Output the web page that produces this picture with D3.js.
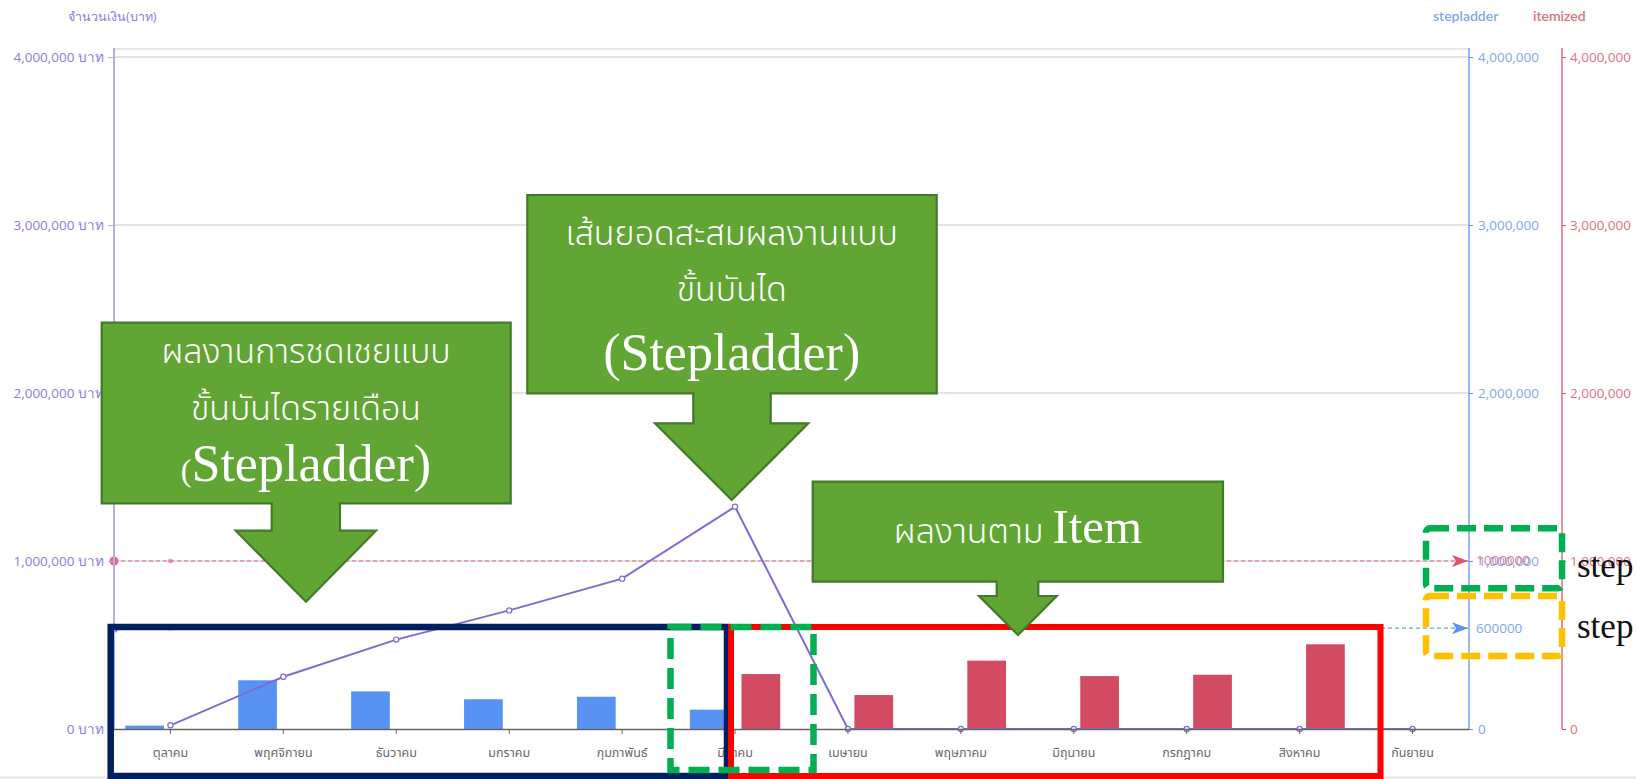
<!DOCTYPE html>
<html>
<head>
<meta charset="utf-8">
<script src="https://cdn.jsdelivr.net/npm/d3@7"></script>
<style>
  html, body { margin: 0; padding: 0; background: #ffffff; }
  svg { display: block; }
</style>
</head>
<body>
<svg id="chart" width="1636" height="779" font-family="'Open Sans', 'Noto Sans', sans-serif"></svg>
<script>
// ---------------- data ----------------
const months = ["ตุลาคม","พฤศจิกายน","ธันวาคม","มกราคม","กุมภาพันธ์","มีนาคม","เมษายน","พฤษภาคม","มิถุนายน","กรกฎาคม","สิงหาคม","กันยายน"];
const seriesNames = ["stepladder", "itemized"];
const stepladderValues = [20000, 290000, 224000, 177000, 192000, 115000, 0, 0, 0, 0, 0, 0];
const itemizedValues   = [0, 0, 0, 0, 0, 327000, 202000, 407000, 315000, 323000, 504000, 0];
const cumulativeStepladder = [22000, 311000, 532000, 706000, 895000, 1323000, 0, 0, 0, 0, 0, 0];
const yTickValues = [0, 1000000, 2000000, 3000000, 4000000];
const itemizedTarget = 1000000;
const stepladderTarget = 600000;
const titleText = "จำนวนเงิน(บาท)";
const callout1Lines = ["ผลงานการชดเชยแบบ", "ขั้นบันไดรายเดือน"];
const callout2Lines = ["เส้นยอดสะสมผลงานแบบ", "ขั้นบันได"];
const callout3Thai = "ผลงานตาม";

// ---------------- layout ----------------
const svg = d3.select("#chart");
const pLeft = 114, pRight = 1469, pTop = 57, pBottom = 729, plotTop = 49;
const blueAxisX = 1469, redAxisX = 1562;
const sans = "'Open Sans', 'Noto Sans', sans-serif";
const thaiFont = "'Noto Sans Thai', 'Noto Sans Thai Looped', Loma, Garuda, 'Noto Sans', sans-serif";
const serif = "'Liberation Serif', 'DejaVu Serif', serif";

const COL = {
  purpleAxis: "#b7aee9", purpleText: "#8a80d6", line: "#7d6cd2",
  blue: "#5893f3", blueText: "#7ea6f2", red: "#d24b63", redText: "#df6f82",
  grid: "#e3e3e3", base: "#666666", month: "#6a6a6a",
  callFill: "#61a534", callStroke: "#44792a"
};

const x0 = d3.scaleBand().domain(months).range([pLeft, pRight]).paddingInner(0.2).paddingOuter(0.1);
const x1 = d3.scaleBand().domain(seriesNames).range([0, x0.bandwidth()]).paddingInner(0.25);
const y = d3.scaleLinear().domain([0, 4000000]).range([pBottom, pTop]);
const cx = m => x0(m) + x0.bandwidth() / 2;

// faint bottom edge line (screenshot edge)
svg.append("line").attr("x1", 0).attr("x2", 1636).attr("y1", 777.5).attr("y2", 777.5)
  .attr("stroke", "#e6e6e6").attr("stroke-width", 2);

// title & legend
svg.append("text").attr("x", 68).attr("y", 21).attr("font-size", 12.5).attr("font-family", sans)
  .attr("fill", COL.purpleText).text(titleText);
svg.append("text").attr("x", 1433).attr("y", 21).attr("font-size", 14).attr("font-weight", 600)
  .attr("font-family", "Lato, sans-serif").attr("fill", COL.blueText).text(seriesNames[0]);
svg.append("text").attr("x", 1533).attr("y", 21).attr("font-size", 14).attr("font-weight", 600)
  .attr("font-family", "Lato, sans-serif").attr("fill", COL.redText).text(seriesNames[1]);

// plot top border & gridlines
svg.append("line").attr("x1", pLeft).attr("x2", pRight).attr("y1", plotTop).attr("y2", plotTop)
  .attr("stroke", "#cfcfcf").attr("stroke-width", 1);
svg.append("g").selectAll("line").data(yTickValues.filter(d => d > 0)).join("line")
  .attr("x1", pLeft).attr("x2", pRight).attr("y1", d => y(d)).attr("y2", d => y(d))
  .attr("stroke", COL.grid).attr("stroke-width", 2);

// bars
const rows = months.map((m, i) => ({ m, stepladder: stepladderValues[i], itemized: itemizedValues[i] }));
svg.append("g").selectAll("g").data(rows).join("g")
  .attr("transform", d => `translate(${x0(d.m)},0)`)
  .selectAll("rect").data(d => seriesNames.map(k => ({ k, v: d[k] })).filter(e => e.v > 0)).join("rect")
  .attr("x", e => x1(e.k)).attr("width", x1.bandwidth())
  .attr("y", e => y(e.v)).attr("height", e => y(0) - y(e.v))
  .attr("fill", e => e.k === "stepladder" ? COL.blue : COL.red);

// arrow markers
const defs = svg.append("defs");
function marker(id, color) {
  defs.append("marker").attr("id", id).attr("viewBox", "0 0 16 12").attr("refX", 16).attr("refY", 6)
    .attr("markerWidth", 16).attr("markerHeight", 12).attr("markerUnits", "userSpaceOnUse").attr("orient", "auto")
    .append("path").attr("d", "M0,0 L16,6 L0,12 L4,6 Z").attr("fill", color);
}
marker("arrRed", "#d9566b");
marker("arrBlue", "#5b95f0");

// target dashed lines
function targetLine(v, color, mk) {
  svg.append("line").attr("x1", pLeft).attr("x2", blueAxisX - 1).attr("y1", y(v)).attr("y2", y(v))
    .attr("stroke", color).attr("stroke-width", 1.2).attr("stroke-dasharray", "4 3")
    .attr("marker-end", `url(#${mk})`);
  svg.append("circle").attr("cx", pLeft).attr("cy", y(v)).attr("r", 4.5).attr("fill", color);
  svg.append("circle").attr("cx", cx(months[0])).attr("cy", y(v)).attr("r", 2.5).attr("fill", color).attr("opacity", 0.6);
}
targetLine(itemizedTarget, "#e06a7f", "arrRed");
targetLine(stepladderTarget, "#6c9ff0", "arrBlue");

// cumulative line
const lineGen = d3.line().x((d, i) => cx(months[i])).y(d => y(d));
svg.append("path").datum(cumulativeStepladder).attr("d", lineGen)
  .attr("fill", "none").attr("stroke", COL.line).attr("stroke-width", 2);
svg.append("g").selectAll("circle").data(cumulativeStepladder).join("circle")
  .attr("cx", (d, i) => cx(months[i])).attr("cy", d => y(d)).attr("r", 2.6)
  .attr("fill", "#fff").attr("stroke", COL.line).attr("stroke-width", 1.2);

// left axis
svg.append("line").attr("x1", pLeft).attr("x2", pLeft).attr("y1", plotTop - 1).attr("y2", pBottom)
  .attr("stroke", COL.purpleAxis).attr("stroke-width", 2);
const gL = svg.append("g").attr("transform", `translate(${pLeft},0)`)
  .call(d3.axisLeft(y).tickValues(yTickValues).tickSize(6).tickPadding(4)
    .tickFormat(d => d3.format(",")(d) + " บาท"));
gL.attr("font-family", sans).attr("font-size", 13.5);
gL.select(".domain").remove();
gL.selectAll("line").attr("stroke", COL.purpleAxis);
gL.selectAll("text").attr("fill", COL.purpleText);

// blue right axis
svg.append("line").attr("x1", blueAxisX).attr("x2", blueAxisX).attr("y1", plotTop - 1).attr("y2", pBottom)
  .attr("stroke", "#5b95f0").attr("stroke-width", 1.3);
const gB = svg.append("g").attr("transform", `translate(${blueAxisX},0)`)
  .call(d3.axisRight(y).tickValues(yTickValues).tickSize(4).tickPadding(5).tickFormat(d3.format(",")));
gB.attr("font-family", sans).attr("font-size", 13.5);
gB.select(".domain").remove();
gB.selectAll("line").attr("stroke", "#5b95f0");
gB.selectAll("text").attr("fill", COL.blueText);

// red right axis
svg.append("line").attr("x1", redAxisX).attr("x2", redAxisX).attr("y1", plotTop - 1).attr("y2", pBottom)
  .attr("stroke", "#d9566b").attr("stroke-width", 1.3);
const gR = svg.append("g").attr("transform", `translate(${redAxisX},0)`)
  .call(d3.axisRight(y).tickValues(yTickValues).tickSize(4).tickPadding(4).tickFormat(d3.format(",")));
gR.attr("font-family", sans).attr("font-size", 13.5);
gR.select(".domain").remove();
gR.selectAll("line").attr("stroke", "#d9566b");
gR.selectAll("text").attr("fill", COL.redText);

// target value labels at blue axis
svg.append("text").attr("x", blueAxisX + 7).attr("y", y(itemizedTarget)).attr("dy", "0.32em")
  .attr("font-family", sans).attr("font-size", 13.5).attr("fill", COL.redText).attr("opacity", 0.9)
  .text(String(itemizedTarget));
svg.append("text").attr("x", blueAxisX + 7).attr("y", y(stepladderTarget)).attr("dy", "0.32em")
  .attr("font-family", sans).attr("font-size", 13.5).attr("fill", COL.blueText).text(String(stepladderTarget));

// x axis
const gX = svg.append("g").attr("transform", `translate(0,${pBottom})`)
  .call(d3.axisBottom(x0).tickSize(5).tickPadding(14));
gX.attr("font-family", thaiFont).attr("font-size", 12.5);
gX.select(".domain").attr("d", `M${pLeft},0.5H${pRight}`).attr("stroke", COL.base).attr("stroke-width", 1.5);
gX.selectAll("line").attr("stroke", COL.base);
gX.selectAll("text").attr("fill", COL.month);

// ---------------- annotation overlays ----------------
const ann = svg.append("g");
ann.append("rect").attr("x", 110.7).attr("y", 627).attr("width", 727 - 110.7).attr("height", 776 - 627)
  .attr("fill", "none").attr("stroke", "#002060").attr("stroke-width", 6.5);
ann.append("rect").attr("x", 731).attr("y", 627).attr("width", 1380.5 - 731).attr("height", 776 - 627)
  .attr("fill", "none").attr("stroke", "#ff0000").attr("stroke-width", 6);
ann.append("rect").attr("x", 670.5).attr("y", 627).attr("width", 813.5 - 670.5).attr("height", 770 - 627)
  .attr("fill", "none").attr("stroke", "#00b050").attr("stroke-width", 6.5).attr("stroke-dasharray", "21 9");
ann.append("rect").attr("x", 1426).attr("y", 528.3).attr("width", 1562 - 1426).attr("height", 588.3 - 528.3)
  .attr("rx", 4).attr("fill", "none").attr("stroke", "#00b050").attr("stroke-width", 6.5).attr("stroke-dasharray", "19 8");
ann.append("rect").attr("x", 1426).attr("y", 596).attr("width", 1562 - 1426).attr("height", 656 - 596)
  .attr("rx", 4).attr("fill", "none").attr("stroke", "#ffc000").attr("stroke-width", 6.5).attr("stroke-dasharray", "19 8");
ann.append("text").attr("x", 1577).attr("y", 577).attr("font-size", 35)
  .attr("font-family", serif).attr("fill", "#111").text("step");
ann.append("text").attr("x", 1577).attr("y", 638).attr("font-size", 35)
  .attr("font-family", serif).attr("fill", "#111").text("step");

function callout(b) {
  const p = [
    [b.x0, b.y0], [b.x1, b.y0], [b.x1, b.y1], [b.s1, b.y1], [b.s1, b.sb], [b.h1, b.sb],
    [b.tx, b.ty], [b.h0, b.sb], [b.s0, b.sb], [b.s0, b.y1], [b.x0, b.y1]
  ];
  ann.append("path").attr("d", "M" + p.map(q => q.join(",")).join("L") + "Z")
    .attr("fill", COL.callFill).attr("stroke", COL.callStroke).attr("stroke-width", 2.2)
    .attr("stroke-linejoin", "miter");
}

callout({ x0: 101.7, y0: 322.7, x1: 510.7, y1: 503.3, s0: 271.7, s1: 340, sb: 530.7, h0: 235.7, h1: 376, tx: 306, ty: 601.7 });
callout({ x0: 527.3, y0: 195, x1: 936.7, y1: 393.3, s0: 693.3, s1: 770.7, sb: 423.3, h0: 655, h1: 808.3, tx: 731.7, ty: 500 });
callout({ x0: 812.7, y0: 481.7, x1: 1223, y1: 581.7, s0: 996.7, s1: 1038.3, sb: 596, h0: 979, h1: 1056.7, tx: 1018, ty: 635 });

function tline(x, yv, str, size, fam, weight) {
  return ann.append("text").attr("x", x).attr("y", yv).attr("text-anchor", "middle")
    .attr("font-size", size).attr("font-family", fam).attr("font-weight", weight || "normal")
    .attr("fill", "#ffffff").text(str);
}
tline(306, 363, callout1Lines[0], 34, thaiFont, 300);
tline(306, 420, callout1Lines[1], 34, thaiFont, 300);
const t13 = ann.append("text").attr("x", 306).attr("y", 481).attr("text-anchor", "middle")
  .attr("font-family", serif).attr("fill", "#fff");
t13.append("tspan").attr("font-size", 32).text("(");
t13.append("tspan").attr("font-size", 52).text("Stepladder)");

tline(731.7, 245, callout2Lines[0], 34, thaiFont, 300);
tline(731.7, 301, callout2Lines[1], 34, thaiFont, 300);
tline(731.7, 370, "(Stepladder)", 52, serif);

const t3 = ann.append("text").attr("x", 1018).attr("y", 543).attr("text-anchor", "middle").attr("fill", "#fff");
t3.append("tspan").attr("font-family", thaiFont).attr("font-weight", 300).attr("font-size", 34).text(callout3Thai + " ");
t3.append("tspan").attr("font-family", serif).attr("font-size", 49).text("Item");
</script>
</body>
</html>
